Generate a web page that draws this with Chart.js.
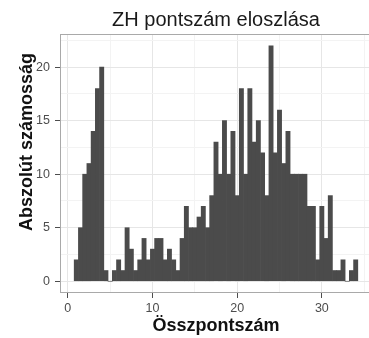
<!DOCTYPE html>
<html>
<head>
<meta charset="utf-8">
<script src="https://cdn.jsdelivr.net/npm/chart.js@4.4.1/dist/chart.umd.min.js"></script>
<style>
  html, body { margin: 0; padding: 0; background: #ffffff; overflow: hidden; }
  #wrap { width: 369px; height: 338px; overflow: hidden; }
  canvas { display: block; }
</style>
</head>
<body>
<div id="wrap"><canvas id="hist" width="374" height="338"></canvas></div>
<script>
// Histogram of total scores, bin width 0.5 (bins centred on the score values)
const binCenters = [
  1, 1.5, 2, 2.5, 3, 3.5, 4, 4.5, 5, 5.5,
  6, 6.5, 7, 7.5, 8, 8.5, 9, 9.5, 10, 10.5,
  11, 11.5, 12, 12.5, 13, 13.5, 14, 14.5, 15, 15.5,
  16, 16.5, 17, 17.5, 18, 18.5, 19, 19.5, 20, 20.5,
  21, 21.5, 22, 22.5, 23, 23.5, 24, 24.5, 25, 25.5,
  26, 26.5, 27, 27.5, 28, 28.5, 29, 29.5, 30, 30.5,
  31, 31.5, 32, 32.5, 33, 33.5, 34
];
const counts = [
  2, 5, 10, 11, 14, 18, 20, 1, 0, 1,
  2, 1, 5, 3, 1, 2, 4, 2, 3, 4,
  4, 2, 3, 2, 1, 4, 7, 5, 5, 6,
  7, 5, 8, 13, 10, 15, 10, 14, 8, 18,
  10, 18, 13, 15, 12, 8, 22, 12, 16, 11,
  14, 10, 10, 10, 10, 7, 7, 2, 7, 4,
  8, 1, 1, 2, 0, 1, 2
];

// Axis ticks: every value gets a grid line, labelled ones are the major breaks
const xTickValues = [0, 5, 10, 15, 20, 25, 30, 35];
const xTickLabels = ['0', '', '10', '', '20', '', '30', ''];
const yTickValues = [0, 2.5, 5, 7.5, 10, 12.5, 15, 17.5, 20, 22.5];
const yTickLabels = ['0', '', '5', '', '10', '', '15', '', '20', ''];

const chartTitle = 'ZH pontszám eloszlása';
const xTitle = 'Összpontszám';
const yTitle = 'Abszolút számosság';

const FONT = "'Liberation Sans', Arial, Helvetica, sans-serif";
const BAR = '#4b4b4b';

function isMajor(values, labels, v) {
  const i = values.indexOf(v);
  return i >= 0 && labels[i] !== '';
}

// Panel frame plus the rotated y-axis title
const panelFrame = {
  id: 'panelFrame',
  afterDraw(chart) {
    const { ctx, chartArea: a } = chart;
    ctx.save();
    ctx.strokeStyle = '#a9a9a9';
    ctx.lineWidth = 1;
    const l = Math.round(a.left) + 0.5, t = Math.round(a.top) + 0.5;
    const r = Math.round(a.right) - 0.5, b = Math.round(a.bottom) - 0.5;
    ctx.strokeRect(l, t, r - l, b - t);

    ctx.translate(27, 142);
    ctx.rotate(-Math.PI / 2);
    ctx.fillStyle = '#111111';
    ctx.font = "bold 18px " + FONT;
    ctx.textAlign = 'center';
    ctx.textBaseline = 'middle';
    ctx.fillText(yTitle, 0, 0);
    ctx.restore();
  }
};

new Chart(document.getElementById('hist'), {
  type: 'bar',
  data: {
    datasets: [{
      data: binCenters.map((x, i) => ({ x: x, y: counts[i] })),
      backgroundColor: BAR,
      borderWidth: 0,
      barPercentage: 1,
      categoryPercentage: 1
    }]
  },
  options: {
    responsive: false,
    animation: false,
    events: [],
    layout: { padding: { left: 0, right: 2, top: 0, bottom: 0 } },
    plugins: {
      legend: { display: false },
      tooltip: { enabled: false },
      title: {
        display: true,
        text: chartTitle,
        fullSize: false,
        color: '#1a1a1a',
        font: { family: FONT, size: 20, weight: 'normal' },
        padding: { top: 8, bottom: 2 }
      }
    },
    scales: {
      x: {
        type: 'linear',
        offset: false,
        min: -0.925,
        max: 35.925,
        afterBuildTicks(scale) {
          scale.ticks = xTickValues.map(v => ({ value: v }));
        },
        afterFit(scale) { scale.height = 45; },
        border: { display: false },
        grid: {
          offset: false,
          drawTicks: true,
          tickLength: 5,
          color: c => isMajor(xTickValues, xTickLabels, c.tick && c.tick.value) ? '#e6e6e6' : '#f3f3f3',
          tickColor: c => isMajor(xTickValues, xTickLabels, c.tick && c.tick.value) ? '#4d4d4d' : 'rgba(0,0,0,0)'
        },
        ticks: {
          autoSkip: false,
          maxRotation: 0,
          padding: 3,
          color: '#4d4d4d',
          font: { family: FONT, size: 12.5 },
          callback: v => { const i = xTickValues.indexOf(v); return i >= 0 ? xTickLabels[i] : ''; }
        },
        title: {
          display: true,
          text: xTitle,
          color: '#111111',
          font: { family: FONT, size: 18, weight: 'bold' },
          padding: { top: 0, bottom: 1 }
        }
      },
      y: {
        type: 'linear',
        min: -1.1,
        max: 23.1,
        afterBuildTicks(scale) {
          scale.ticks = yTickValues.map(v => ({ value: v }));
        },
        afterFit(scale) { scale.width = 60; },
        border: { display: false },
        grid: {
          drawTicks: true,
          tickLength: 5,
          color: c => isMajor(yTickValues, yTickLabels, c.tick && c.tick.value) ? '#e6e6e6' : '#f3f3f3',
          tickColor: c => isMajor(yTickValues, yTickLabels, c.tick && c.tick.value) ? '#4d4d4d' : 'rgba(0,0,0,0)'
        },
        ticks: {
          autoSkip: false,
          padding: 5,
          color: '#4d4d4d',
          font: { family: FONT, size: 12.5 },
          callback: v => { const i = yTickValues.indexOf(v); return i >= 0 ? yTickLabels[i] : ''; }
        },
        title: { display: false }
      }
    }
  },
  plugins: [panelFrame]
});
</script>
</body>
</html>
